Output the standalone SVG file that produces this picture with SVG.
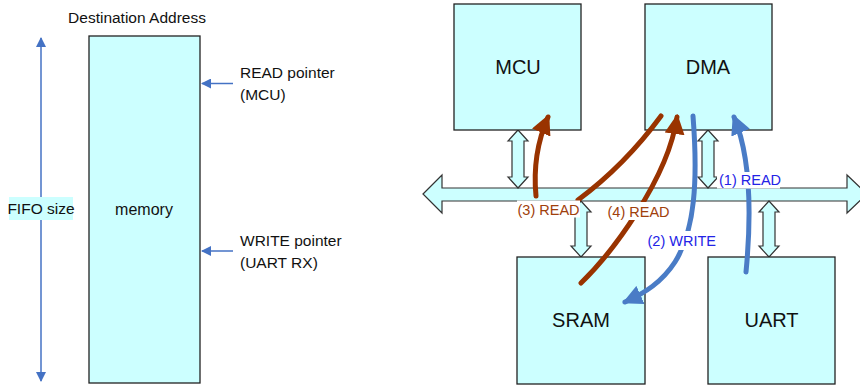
<svg xmlns="http://www.w3.org/2000/svg" width="860" height="385" viewBox="0 0 860 385">
<style>
text{font-family:"Liberation Sans",Arial,sans-serif;fill:#111}
.box{fill:#ccffff;stroke:#222;stroke-width:1.3}
.dbl{fill:#ccffff;stroke:#333;stroke-width:1.2;stroke-linejoin:miter}
.thin{stroke:#4472c4;stroke-width:1.5;fill:none}
.brown{stroke:#993300;stroke-width:5;fill:none;stroke-linecap:round}
.blue{stroke:#4a7cc6;stroke-width:5;fill:none;stroke-linecap:round}
.lbl{font-size:14.5px}
.big{font-size:20px}
.sm{font-size:15.5px}
</style>
<defs>
<marker id="ah" viewBox="0 0 10 10" refX="9" refY="5" markerWidth="10" markerHeight="10" markerUnits="userSpaceOnUse" orient="auto-start-reverse"><path d="M0,0 L10,5 L0,10 z" fill="#4472c4"/></marker>
<marker id="hb" viewBox="0 0 20 20" refX="17" refY="10" markerWidth="20" markerHeight="20" markerUnits="userSpaceOnUse" orient="auto"><path d="M0,0 L20,10 L0,20 z" fill="#993300"/></marker>
<marker id="hl" viewBox="0 0 20 20" refX="17" refY="10" markerWidth="20" markerHeight="20" markerUnits="userSpaceOnUse" orient="auto"><path d="M0,0 L20,10 L0,20 z" fill="#4a7cc6"/></marker>
</defs>

<g id="fifo">
<text class="sm" x="137" y="23" text-anchor="middle">Destination Address</text>
<rect class="box" x="89" y="36" width="111" height="347"/>
<text x="144" y="215" font-size="16" text-anchor="middle">memory</text>
<line class="thin" x1="41" y1="38" x2="41" y2="381" marker-start="url(#ah)" marker-end="url(#ah)"/>
<rect x="9" y="197" width="64" height="23" fill="#ccffff"/>
<text class="sm" x="41" y="214" text-anchor="middle">FIFO size</text>
<line class="thin" x1="233" y1="83.5" x2="202" y2="83.5" marker-end="url(#ah)"/>
<text class="sm" x="240" y="78">READ pointer</text>
<text class="sm" x="240" y="100">(MCU)</text>
<line class="thin" x1="233" y1="251" x2="202" y2="251" marker-end="url(#ah)"/>
<text class="sm" x="240" y="246">WRITE pointer</text>
<text class="sm" x="240" y="268">(UART RX)</text>
</g>

<g id="bus">
<polygon class="dbl" points="423,194 442,175 442,188 847,188 847,175 867,194 847,213 847,201 442,201 442,213"/>
</g>

<g id="links">
<polygon class="dbl" points="518,130 528,141 524,141 524,177 528,177 518,188 508,177 512,177 512,141 508,141"/>
<polygon class="dbl" points="708,130 718,141 714,141 714,177 718,177 708,188 698,177 702,177 702,141 698,141"/>
<polygon class="dbl" points="581,201 591,212 587,212 587,246 591,246 581,257 571,246 575,246 575,212 571,212"/>
<polygon class="dbl" points="769,201 779,212 775,212 775,246 779,246 769,257 759,246 763,246 763,212 759,212"/>
</g>

<g id="mcu">
<rect class="box" x="454" y="4" width="127" height="126"/>
<text class="big" x="518" y="74" text-anchor="middle">MCU</text>
</g>
<g id="dma">
<rect class="box" x="645" y="4" width="127" height="126"/>
<text class="big" x="708" y="74" text-anchor="middle">DMA</text>
</g>
<g id="sram">
<rect class="box" x="517" y="257" width="128" height="127"/>
<text class="big" x="581" y="327" text-anchor="middle">SRAM</text>
</g>
<g id="uart">
<rect class="box" x="708" y="257" width="127" height="127"/>
<text class="big" x="771.5" y="327" text-anchor="middle">UART</text>
</g>

<g id="connectors">
<path class="brown" d="M536,196 C533,165 538,140 548,117" marker-end="url(#hb)"/>
<path class="brown" d="M578,200 Q625,165 661,116"/>
<path class="brown" d="M581,283 C610,255 668,180 677,117" marker-end="url(#hb)"/>
<path class="blue" d="M693,116 C698,180 695,230 675,262 C662,282 645,293 625,302" marker-end="url(#hl)"/>
<path class="blue" d="M746,272 C751,220 752,160 734,117" marker-end="url(#hl)"/>
</g>

<g id="labels">
<rect x="717" y="172" width="63" height="16.5" fill="#fff"/>
<text class="lbl" x="719" y="185" style="fill:#2323e6">(1) READ</text>
<rect x="517" y="200.5" width="63" height="17" fill="#fff"/>
<text class="lbl" x="517.5" y="215" style="fill:#a0400c">(3) READ</text>
<rect x="606" y="202" width="66" height="18" fill="#fff"/>
<text class="lbl" x="607.5" y="217" style="fill:#a0400c">(4) READ</text>
<rect x="646" y="231" width="74" height="19" fill="#fff"/>
<text class="lbl" x="647.5" y="246" style="fill:#2323e6">(2) WRITE</text>
</g>
</svg>
